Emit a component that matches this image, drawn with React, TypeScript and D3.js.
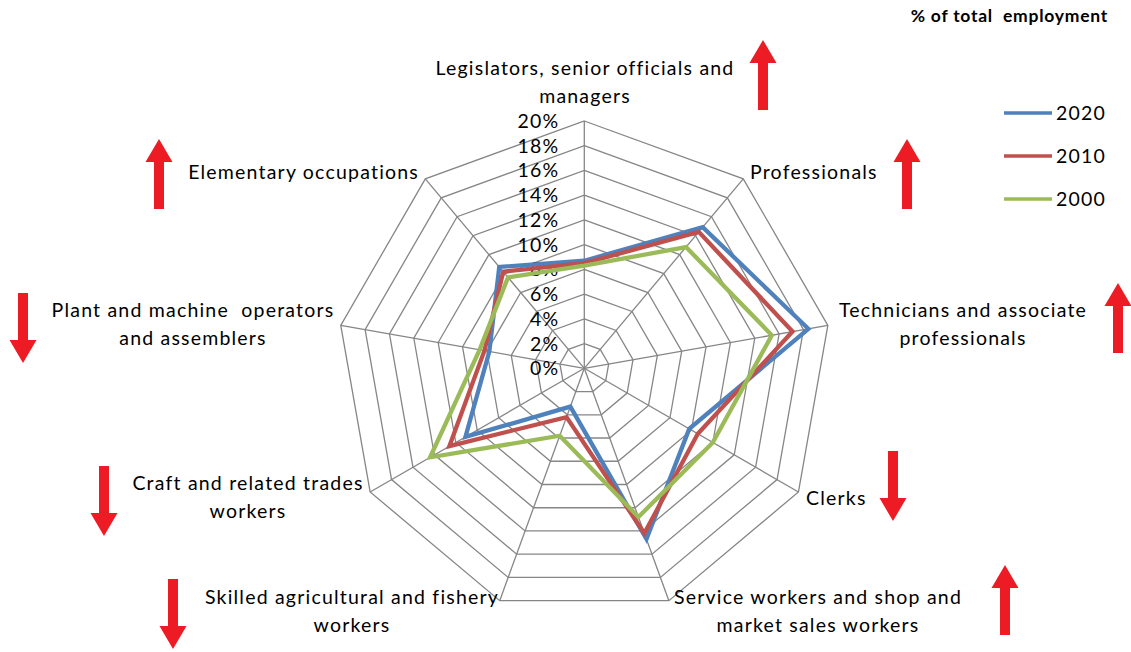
import React, { useEffect, useRef } from "react";
import * as d3 from "d3";

const categories = [
  "Legislators, senior officials and managers",
  "Professionals",
  "Technicians and associate professionals",
  "Clerks",
  "Service workers and shop and market sales workers",
  "Skilled agricultural and fishery workers",
  "Craft and related trades workers",
  "Plant and machine operators and assemblers",
  "Elementary occupations",
];

const years = ["2020", "2010", "2000"];
const values2020 = [8.7, 14.9, 18.4, 9.8, 14.7, 3.3, 11.1, 7.8, 10.7];
const values2010 = [8.5, 14.4, 17.1, 10.6, 14.2, 4.2, 12.6, 8.2, 10.2];
const values2000 = [8.3, 12.8, 15.4, 12.0, 12.8, 5.8, 14.4, 8.6, 9.6];
const trends = ["up", "up", "up", "down", "up", "down", "down", "down", "up"];
const tickValues = [0, 2, 4, 6, 8, 10, 12, 14, 16, 18, 20];

// where each category label and its arrow sit (layout only)
const labelLayout = [
  { x: 585, y: 68, anchor: "middle", lines: ["Legislators, senior officials and", "managers"], ax: 763, ay: 40 },
  { x: 750, y: 172, anchor: "start", lines: ["Professionals"], ax: 907, ay: 139 },
  { x: 963, y: 310, anchor: "middle", lines: ["Technicians and associate", "professionals"], ax: 1118, ay: 283 },
  { x: 806, y: 498, anchor: "start", lines: ["Clerks"], ax: 893, ay: 451 },
  { x: 818, y: 597, anchor: "middle", lines: ["Service workers and shop and", "market sales workers"], ax: 1005, ay: 565 },
  { x: 352, y: 597, anchor: "middle", lines: ["Skilled agricultural and fishery", "workers"], ax: 173, ay: 579 },
  { x: 248, y: 483, anchor: "middle", lines: ["Craft and related trades", "workers"], ax: 104, ay: 466 },
  { x: 193, y: 310, anchor: "middle", lines: ["Plant and machine  operators", "and assemblers"], ax: 23, ay: 293 },
  { x: 419, y: 172, anchor: "end", lines: ["Elementary occupations"], ax: 159, ay: 139 },
];

export default function App() {
  const svgRef = useRef<SVGSVGElement | null>(null);

  useEffect(() => {
    if (!svgRef.current) return;
    const svg = d3.select(svgRef.current);
    svg.selectAll("*").remove();

    const font = "Lato, 'Open Sans', sans-serif";
    const fs = 19.5;
    const ls = 1.2;
    const cx = 584.3;
    const cy = 368.3;
    const radius = 247.3;
    const n = categories.length;

    const r = d3.scaleLinear().domain([0, 20]).range([0, radius]);
    const angle = (i: number) => (i * 2 * Math.PI) / n;
    const point = (i: number, v: number): [number, number] => [
      cx + r(v) * Math.sin(angle(i)),
      cy - r(v) * Math.cos(angle(i)),
    ];

    const grid = svg.append("g");
    // rings
    tickValues.slice(1).forEach((t) => {
      grid
        .append("polygon")
        .attr("points", d3.range(n).map((i) => point(i, t).join(",")).join(" "))
        .attr("fill", "none")
        .attr("stroke", "#868686")
        .attr("stroke-width", 1.3);
    });
    // spokes
    d3.range(n).forEach((i) => {
      const [x, y] = point(i, 20);
      grid
        .append("line")
        .attr("x1", cx)
        .attr("y1", cy)
        .attr("x2", x)
        .attr("y2", y)
        .attr("stroke", "#868686")
        .attr("stroke-width", 1.3);
    });

    // tick labels on the top spoke
    svg
      .append("g")
      .selectAll("text")
      .data(tickValues)
      .join("text")
      .attr("x", cx - 25)
      .attr("y", (d) => cy - r(d))
      .attr("dy", "0.36em")
      .attr("text-anchor", "end")
      .attr("font-family", font)
      .attr("font-size", fs)
      .attr("letter-spacing", ls)
      .attr("fill", "#000")
      .text((d) => `${d}%`);

    const series = [
      { name: years[0], values: values2020, color: "#4F81BD" },
      { name: years[1], values: values2010, color: "#C0504D" },
      { name: years[2], values: values2000, color: "#9BBB59" },
    ];

    const line = d3
      .line<number>()
      .x((d, i) => point(i, d)[0])
      .y((d, i) => point(i, d)[1])
      .curve(d3.curveLinearClosed);

    series.forEach((s) => {
      svg
        .append("path")
        .datum(s.values)
        .attr("fill", "none")
        .attr("stroke", s.color)
        .attr("stroke-width", 4.3)
        .attr("stroke-linejoin", "miter")
        .attr("d", line);
    });

    // category labels
    labelLayout.forEach((l) => {
      const t = svg
        .append("text")
        .attr("font-family", font)
        .attr("font-size", fs)
        .attr("letter-spacing", ls)
        .attr("fill", "#000")
        .attr("text-anchor", l.anchor)
        .style("white-space", "pre");
      l.lines.forEach((ln, k) => {
        t.append("tspan")
          .attr("x", l.x)
          .attr("y", l.y + k * 28)
          .attr("dy", "0.36em")
          .text(ln);
      });
    });

    // trend arrows
    const arrowPath = (x: number, y: number, dir: string) => {
      const h = 70;
      const hw = 13.5;
      const sw = 5;
      const hh = 23;
      if (dir === "up") {
        return `M${x},${y} L${x + hw},${y + hh} L${x + sw},${y + hh} L${x + sw},${y + h} L${x - sw},${y + h} L${x - sw},${y + hh} L${x - hw},${y + hh} Z`;
      }
      return `M${x - sw},${y} L${x + sw},${y} L${x + sw},${y + h - hh} L${x + hw},${y + h - hh} L${x},${y + h} L${x - hw},${y + h - hh} L${x - sw},${y + h - hh} Z`;
    };
    labelLayout.forEach((l, i) => {
      svg
        .append("path")
        .attr("d", arrowPath(l.ax, l.ay, trends[i]))
        .attr("fill", "#ED1C24");
    });

    // legend
    const legend = svg.append("g");
    series.forEach((s, i) => {
      const y = 113 + i * 43;
      legend
        .append("line")
        .attr("x1", 1004)
        .attr("x2", 1052)
        .attr("y1", y)
        .attr("y2", y)
        .attr("stroke", s.color)
        .attr("stroke-width", 3.5);
      legend
        .append("text")
        .attr("x", 1056)
        .attr("y", y)
        .attr("dy", "0.36em")
        .attr("font-family", font)
        .attr("font-size", fs)
        .attr("letter-spacing", ls)
        .attr("fill", "#000")
        .text(s.name);
    });

    // title
    svg
      .append("text")
      .attr("x", 1108)
      .attr("y", 16)
      .attr("dy", "0.36em")
      .attr("text-anchor", "end")
      .attr("font-family", font)
      .attr("font-size", 17.5)
      .attr("letter-spacing", 0.75)
      .attr("font-weight", "bold")
      .attr("fill", "#000")
      .style("white-space", "pre")
      .text("% of total  employment");
  }, []);

  return (
    <svg
      ref={svgRef}
      width={1131}
      height={652}
      style={{ position: "absolute", left: 0, top: 0, background: "#fff" }}
    />
  );
}
